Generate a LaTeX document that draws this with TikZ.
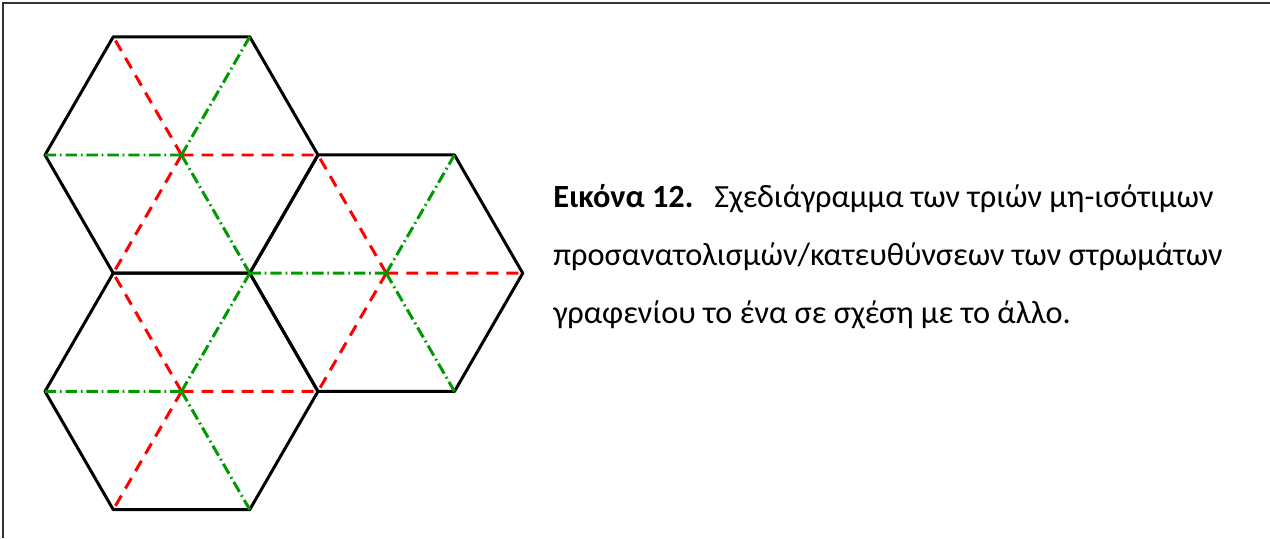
\documentclass[tikz,border=0pt]{standalone}
\usepackage{fontspec}
\setmainfont{Carlito}
\usepackage{tikz}
\usetikzlibrary{calc}
\usetikzlibrary{positioning}

\begin{document}
\begin{tikzpicture}[
		x=0.02cm, y=0.02cm,
		hexedge/.style={line width=1.7pt, black, line join=round},
		redspoke/.style={line width=1.7pt, red, dash pattern=on 6.8pt off 4.6pt},
		greenspoke/.style={line width=1.7pt, green!60!black, dash pattern=on 6.5pt off 2.2pt on 1pt off 2.2pt},
		frameline/.style={line width=1.1pt, black!80}
		]
		\useasboundingbox (0,0) rectangle (1270,538);
		
		% Half-width of a hexagon and distance between neighbouring centres
		\def\rhex{136.5}
		\def\dhex{236.4}
		
		% Frame (top and left only)
		\coordinate (f1) at (3,0);
		\coordinate (f2) at (3,535);
		\coordinate (f3) at (1270,535);
		\draw[frameline] (f1)--(f2)--(f3);
		
		% Centres
		\coordinate (a) at (181.5,383);
		\coordinate (b) at ($(a)+(270:\dhex)$);
		\coordinate (c) at ($(a)+(-30:\dhex)$);
		
		% Upper left hexagon
		\coordinate (a0) at ($(a)+(0:\rhex)$);
		\coordinate (a1) at ($(a)+(60:\rhex)$);
		\coordinate (a2) at ($(a)+(120:\rhex)$);
		\coordinate (a3) at ($(a)+(180:\rhex)$);
		\coordinate (a4) at ($(a)+(240:\rhex)$);
		\coordinate (a5) at ($(a)+(300:\rhex)$);
		
		% Lower left hexagon
		\coordinate (b0) at ($(b)+(0:\rhex)$);
		\coordinate (b1) at ($(b)+(60:\rhex)$);
		\coordinate (b2) at ($(b)+(120:\rhex)$);
		\coordinate (b3) at ($(b)+(180:\rhex)$);
		\coordinate (b4) at ($(b)+(240:\rhex)$);
		\coordinate (b5) at ($(b)+(300:\rhex)$);
		
		% Right hexagon
		\coordinate (c0) at ($(c)+(0:\rhex)$);
		\coordinate (c1) at ($(c)+(60:\rhex)$);
		\coordinate (c2) at ($(c)+(120:\rhex)$);
		\coordinate (c3) at ($(c)+(180:\rhex)$);
		\coordinate (c4) at ($(c)+(240:\rhex)$);
		\coordinate (c5) at ($(c)+(300:\rhex)$);
		
		% Outlines
\draw[hexedge] (a0)--(a1)--(a2)--(a3)--(a4)--(a5)--cycle;
\draw[hexedge] (b0)--(b1)--(b2)--(b3)--(b4)--(b5)--cycle;
\draw[hexedge] (c0)--(c1)--(c2)--(c3)--(c4)--(c5)--cycle;

% Red directions
\draw[redspoke] (a)--(a0) (a)--(a2) (a)--(a4);
\draw[redspoke] (b)--(b0) (b)--(b2) (b)--(b4);
\draw[redspoke] (c)--(c0) (c)--(c2) (c)--(c4);

% Green directions
\draw[greenspoke] (a)--(a1) (a)--(a3) (a)--(a5);
\draw[greenspoke] (b)--(b1) (b)--(b3) (b)--(b5);
\draw[greenspoke] (c)--(c1) (c)--(c3) (c)--(c5);

		% Caption (base anchor sits on the last line)
		\node[anchor=base west, align=left, inner sep=0pt,
			font=\fontsize{18.4pt}{32.8pt}\selectfont] (caption) at (553,215)
			{\textbf{Εικόνα 12.}\hspace{0.65em}Σχεδιάγραμμα των τριών μη-ισότιμων\\
			προσανατολισμών/κατευθύνσεων των στρωμάτων\\
			γραφενίου το ένα σε σχέση με το άλλο.};
		
	\end{tikzpicture}
\end{document}
